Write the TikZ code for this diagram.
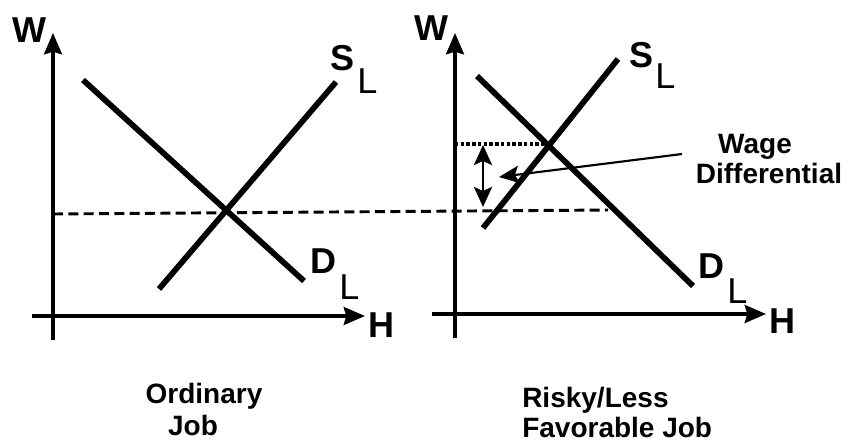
\documentclass[tikz,border=0pt]{standalone}
\usepackage{fontspec}
\setmainfont{Liberation Sans}
\usetikzlibrary{arrows.meta}
\begin{document}
\begin{tikzpicture}[x=0.75pt,y=-0.75pt,
  axis/.style={line width=2.3pt,-{Stealth[length=16pt,width=13.5pt,inset=2pt]}},
  curve/.style={line width=4.3pt},
  eqline/.style={line width=2.2pt,dash pattern=on 7.5pt off 4pt},
  dotline/.style={line width=2.6pt,dash pattern=on 2.6pt off 1.7pt},
  big/.style={inner sep=0pt,font=\fontsize{27}{31}\selectfont\bfseries,anchor=base west},
  sub/.style={inner sep=0pt,font=\fontsize{27}{31}\selectfont,anchor=base west},
  lab/.style={inner sep=0pt,font=\fontsize{21}{25}\selectfont\bfseries},
  dblarrow/.style={line width=2.2pt,{Stealth[length=15pt,width=13.5pt,inset=3pt]}-{Stealth[length=15pt,width=13.5pt,inset=3pt]}},
  ptr/.style={line width=1.6pt,-{Stealth[length=15pt,width=13pt,inset=3pt]}}]
\useasboundingbox (0,0) rectangle (848,443);
% left panel
\coordinate (lWb) at (53,340); \coordinate (lWt) at (53,33);
\coordinate (lHl) at (32,316); \coordinate (lHr) at (365,316);
\coordinate (lD1) at (83,80); \coordinate (lD2) at (304,281);
\coordinate (lS1) at (159,289); \coordinate (lS2) at (336,82);
\coordinate (eq1) at (53,214); \coordinate (eq2) at (608,210);
\draw[axis] (lWb) -- (lWt);
\draw[axis] (lHl) -- (lHr);
\draw[curve] (lD1) -- (lD2);
\draw[curve] (lS1) -- (lS2);
\draw[eqline] (eq1) -- (eq2);
\node[big] (lW) at (12,42) {W};
\node[big] (lH) at (368,337) {H};
\node[big] (lS) at (330,70) {S};
\node[sub] (lSL) at (357,93) {L};
\node[big] (lD) at (310,273) {D};
\node[sub] (lDL) at (339,299) {L};
\node[lab,anchor=base] (ord) at (204,403) {Ordinary};
\node[lab,anchor=base] (job) at (193,435) {Job};
% right panel
\coordinate (rWb) at (455,338); \coordinate (rWt) at (455,33);
\coordinate (rHl) at (432,314); \coordinate (rHr) at (766,314);
\coordinate (rD1) at (477,76); \coordinate (rD2) at (693,286);
\coordinate (rS1) at (483,228); \coordinate (rS2) at (618,59);
\coordinate (dt1) at (455,144); \coordinate (dt2) at (544,144);
\coordinate (da1) at (483,145); \coordinate (da2) at (483,207);
\coordinate (pa1) at (682,154); \coordinate (pa2) at (499,177);
\draw[axis] (rWb) -- (rWt);
\draw[axis] (rHl) -- (rHr);
\draw[curve] (rD1) -- (rD2);
\draw[curve] (rS1) -- (rS2);
\draw[dotline] (dt1) -- (dt2);
\draw[dblarrow] (da1) -- (da2);
\draw[ptr] (pa1) -- (pa2);
\node[big] (rW) at (414,40) {W};
\node[big] (rH) at (769,333) {H};
\node[big] (rS) at (629,67) {S};
\node[sub] (rSL) at (655,88) {L};
\node[big] (rD) at (698,278) {D};
\node[sub] (rDL) at (727,303) {L};
\node[lab,anchor=base] (wage) at (755,153) {Wage};
\node[lab,anchor=base] (diff) at (769,183) {Differential};
\node[lab,anchor=base west] (risky) at (522,407) {Risky/Less};
\node[lab,anchor=base west] (fav) at (522,437) {Favorable Job};
\end{tikzpicture}
\end{document}
